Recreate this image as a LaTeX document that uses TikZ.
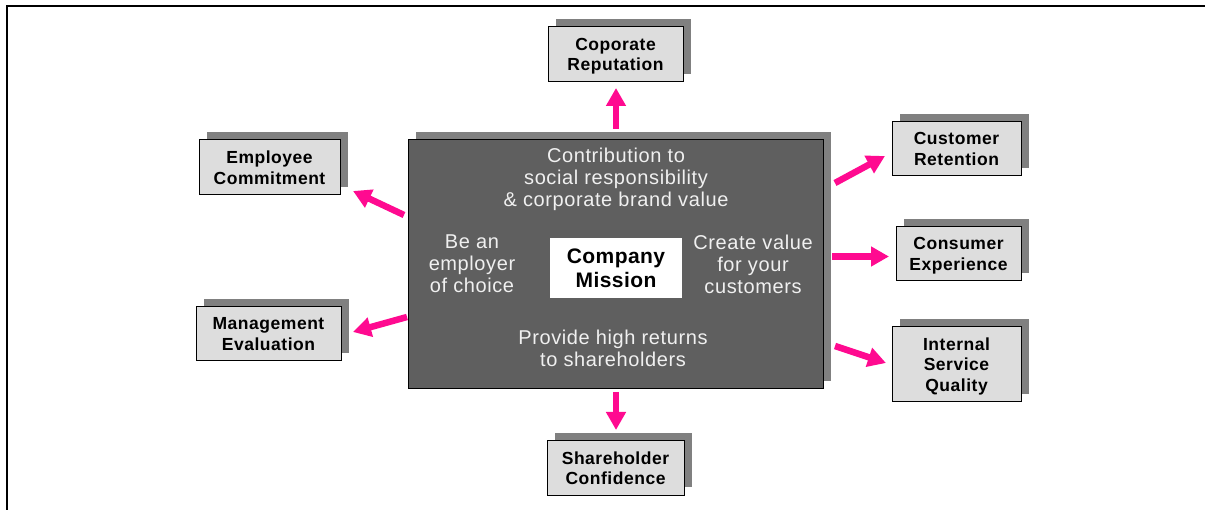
\documentclass[tikz,border=0pt]{standalone}
\usepackage{fontspec}
\setmainfont{Liberation Sans}
\newfontfamily\spacedfont[LetterSpace=3]{Liberation Sans}
\newfontfamily\missionfont[LetterSpace=2]{Liberation Sans}
\usetikzlibrary{arrows.meta,shadows}
\definecolor{mainfill}{HTML}{5F5F5F}
\definecolor{shadowgray}{HTML}{808080}
\definecolor{boxfill}{HTML}{DDDDDD}
\definecolor{textlight}{HTML}{F0F0F0}
\definecolor{pinkarrow}{HTML}{FF0A90}
\begin{document}
\begin{tikzpicture}[x=1pt,y=-1pt,
  outcome/.style={draw=black,line width=1pt,fill=boxfill,align=center,
    font=\spacedfont\fontsize{17.5}{20.5}\selectfont\bfseries,inner sep=0pt,text depth=0pt,
    drop shadow={shadow xshift=8pt,shadow yshift=8pt,fill=shadowgray,opacity=1}},
  mainbox/.style={draw=black,line width=1pt,fill=mainfill,inner sep=0pt,
    drop shadow={shadow xshift=8pt,shadow yshift=8pt,fill=shadowgray,opacity=1}},
  goal/.style={text=textlight,align=center,font=\spacedfont\fontsize{20}{22}\selectfont,inner sep=0pt},
  missionbox/.style={fill=white,align=center,inner sep=0pt,
    font=\missionfont\fontsize{21}{24}\selectfont\bfseries},
  pinkarrow/.style={draw=pinkarrow,line width=6.5pt,
    -{Triangle[width=19pt,length=18pt]}}
]
\useasboundingbox (0,0) rectangle (1205,510);
% frame
\draw[line width=2pt] (7.3,510) -- (7.3,6.3) -- (1205,6.3);

% central box
\node[mainbox,minimum width=415pt,minimum height=249pt] (main) at (615.5,264.5) {};
\node[missionbox,minimum width=132pt,minimum height=60pt] (mission) at (616,268) {Company\\Mission};
\node[goal] (social) at (616,179) {Contribution to\\social responsibility\\\& corporate brand value};
\node[goal] (employer) at (472,264) {Be an\\employer\\of choice};
\node[goal] (customers) at (753,264) {Create value\\for your\\customers};
\node[goal] (returns) at (613,348) {Provide high returns\\to shareholders};

% outcome boxes
\node[outcome,minimum width=135pt,minimum height=55pt] (rep) at (615.5,54.5) {Coporate\\Reputation};
\node[outcome,minimum width=141pt,minimum height=55pt] (emp) at (269.5,167.5) {Employee\\Commitment};
\node[outcome,minimum width=145pt,minimum height=54pt] (mgmt) at (268.5,334) {Management\\Evaluation};
\node[outcome,minimum width=129pt,minimum height=54pt] (cust) at (956.5,149) {Customer\\Retention};
\node[outcome,minimum width=125pt,minimum height=54pt] (cons) at (958.5,254) {Consumer\\Experience};
\node[outcome,minimum width=129pt,minimum height=75pt] (isq) at (956.5,364.5) {Internal\\Service\\Quality};
\node[outcome,minimum width=137pt,minimum height=54pt] (share) at (615.5,468) {Shareholder\\Confidence};

% arrow end points
\coordinate (repT) at (616,129);   \coordinate (repH) at (616,88);
\coordinate (shT) at (616,392);    \coordinate (shH) at (616,430);
\coordinate (empT) at (404,215);   \coordinate (empH) at (353,191);
\coordinate (mgT) at (407,317);    \coordinate (mgH) at (353,332);
\coordinate (cuT) at (835,183);    \coordinate (cuH) at (885,156);
\coordinate (coT) at (832,256.5);  \coordinate (coH) at (889,256.5);
\coordinate (isT) at (835,346);    \coordinate (isH) at (886,363);

\draw[pinkarrow] (repT) -- (repH);
\draw[pinkarrow] (shT) -- (shH);
\draw[pinkarrow] (empT) -- (empH);
\draw[pinkarrow] (mgT) -- (mgH);
\draw[pinkarrow] (cuT) -- (cuH);
\draw[pinkarrow] (coT) -- (coH);
\draw[pinkarrow] (isT) -- (isH);
\end{tikzpicture}
\end{document}
